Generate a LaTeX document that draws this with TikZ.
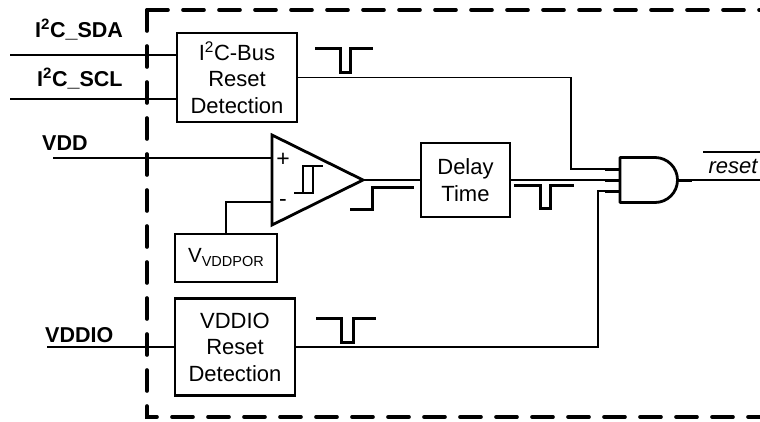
\documentclass[tikz,border=0pt]{standalone}
\usepackage{fontspec}
\setmainfont{Liberation Sans}
\begin{document}
\begin{tikzpicture}[x=1pt,y=-1pt,
  box/.style={draw,line width=2.6pt,inner sep=0pt,align=center,font=\fontsize{22}{26.5}\selectfont},
  wire/.style={line width=1.6pt},
  sig/.style={line width=3pt},
  thinsig/.style={line width=1.6pt},
  gatestyle/.style={line width=2.8pt,line join=round},
  lbl/.style={font=\fontsize{21.5}{25}\selectfont\bfseries,anchor=base west,inner sep=0pt},
  sign/.style={font=\fontsize{23}{24}\selectfont,inner sep=0pt},
  border/.style={line width=3.6pt,line cap=round,dash pattern=on 21pt off 15pt}]
\useasboundingbox (0,0) rectangle (760,421);

% dashed frame
\draw[border] (147,10) -- (760,10);
\draw[border] (147,10) -- (147,417) -- (760,417);

% input labels
\node[lbl] (sda) at (35,37) {I\textsuperscript{2}C\_SDA};
\node[lbl] (scl) at (37,86) {I\textsuperscript{2}C\_SCL};
\node[lbl] (vdd) at (42,150) {VDD};
\node[lbl] (vddiol) at (45,342) {VDDIO};

% input line ends
\coordinate (sdaL) at (10,55);
\coordinate (sclL) at (10,99);
\coordinate (vddL) at (53,158);
\coordinate (vddioL) at (47,347);

% boxes
\node[box,minimum width=120pt,minimum height=89pt] (i2c) at (237,77.5) {I\textsuperscript{2}C-Bus\\Reset\\Detection};
\node[box,minimum width=89pt,minimum height=74pt] (delay) at (465.5,180) {Delay\\Time};
\node[box,minimum width=102pt,minimum height=48pt] (vpor) at (226,258) {};
\node[font=\fontsize{20.5}{22}\selectfont,anchor=base,inner sep=0pt] (vportxt) at (226,262) {V\raisebox{-4pt}{\fontsize{14.5}{15}\selectfont VDDPOR}};
\node[box,minimum width=120pt,minimum height=97pt] (vddio) at (235,347) {VDDIO\\Reset\\Detection};

% comparator
\coordinate (cmpA) at (272,135);
\coordinate (cmpB) at (272,225);
\coordinate (cmpT) at (363,180);
\coordinate (cmpP) at (272,158);
\coordinate (cmpM) at (272,202);
\draw[gatestyle,line join=miter] (cmpA) -- (cmpT) -- (cmpB) -- cycle;
\node[sign] (plus) at (283,160) {+};
\node[sign] (minus) at (283,203) {-};
\draw[thinsig] (294,193) -- (313,193) -- (313,166);
\draw[thinsig] (303,193) -- (303,166) -- (323,166);

% AND gate
\draw[gatestyle] (620,157.5) -- (655,157.5) arc[start angle=-90,end angle=90,x radius=22.5,y radius=22.5] -- (620,202.5) -- cycle;
\coordinate (g1) at (620,169);
\coordinate (g2) at (620,180);
\coordinate (g3) at (620,191);
\coordinate (g1s) at (605,169);
\coordinate (g2s) at (605,180);
\coordinate (g3s) at (605,191);
\coordinate (gout) at (677.5,180);
\coordinate (goutS) at (692,180);
\coordinate (outR) at (760,180);
\draw[sig] (g1s) -- (g1);
\draw[sig] (g2s) -- (g2);
\draw[sig] (g3s) -- (g3);
\draw[sig] (gout) -- (goutS);

% connectors
\draw[wire] (sdaL) -- (i2c.west |- sdaL);
\draw[wire] (sclL) -- (i2c.west |- sclL);
\draw[wire] (vddL) -- (cmpP);
\draw[wire] (vddioL) -- (vddio.west |- vddioL);
\draw[wire] (vpor.north) |- (cmpM);
\draw[wire] (cmpT) -- (delay.west);
\draw[wire] (i2c.east) -| (571,169) -- (g1s);
\draw[wire] (delay.east) -- (g2s);
\draw[wire] (vddio.east) -| (598,191) -- (g3s);
\draw[wire] (goutS) -- (outR);

% output label
\node[font=\fontsize{22}{24}\selectfont\itshape,anchor=base,inner sep=0pt] (rst) at (733,173) {reset};
\draw[wire] (703,152) -- (760,152);

% pulse / step symbols
\draw[sig,line join=miter] (315,48) -- (340,48) -- (340,72) -- (350,72) -- (350,48) -- (373,48);
\draw[sig,line join=miter] (350,209) -- (372,209) -- (372,187) -- (414,187);
\draw[sig,line join=miter] (514,185) -- (540,185) -- (540,208) -- (550,208) -- (550,185) -- (574,185);
\draw[sig,line join=miter] (316,318) -- (341,318) -- (341,342) -- (353,342) -- (353,318) -- (376,318);
\end{tikzpicture}
\end{document}
